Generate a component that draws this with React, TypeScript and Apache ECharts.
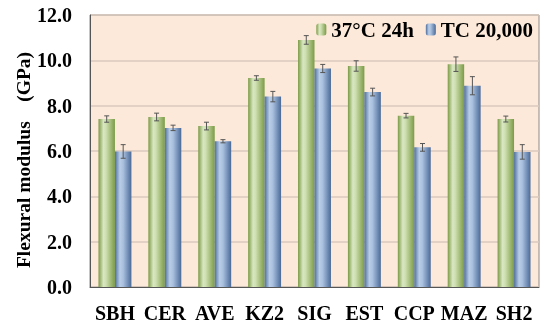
import React, { useEffect, useRef } from "react";
import * as echarts from "echarts";

const categories = ["SBH", "CER", "AVE", "KZ2", "SIG", "EST", "CCP", "MAZ", "SH2"];
const seriesNames = ["37°C 24h", "TC 20,000"];
const values37 = [7.41, 7.5, 7.1, 9.22, 10.9, 9.75, 7.56, 9.83, 7.41];
const err37 = [0.14, 0.17, 0.17, 0.1, 0.19, 0.23, 0.1, 0.32, 0.13];
const valuesTC = [5.98, 7.02, 6.43, 8.4, 9.64, 8.6, 6.16, 8.88, 5.96];
const errTC = [0.3, 0.12, 0.07, 0.23, 0.18, 0.17, 0.17, 0.4, 0.32];
const yTicks = [0, 2, 4, 6, 8, 10, 12];
const yTitle = "Flexural modulus    (GPa)";

const font = "'Liberation Serif', 'Times New Roman', serif";

const greenGrad = new echarts.graphic.LinearGradient(0, 0, 1, 0, [
  { offset: 0, color: "#7a9a46" },
  { offset: 0.3, color: "#d9e7c2" },
  { offset: 0.45, color: "#cfe0b2" },
  { offset: 1, color: "#7b9b47" },
]);
const blueGrad = new echarts.graphic.LinearGradient(0, 0, 1, 0, [
  { offset: 0, color: "#4d6e9c" },
  { offset: 0.3, color: "#b9cde6" },
  { offset: 0.5, color: "#a9c0de" },
  { offset: 1, color: "#4a6a98" },
]);

function errorSeries(vals: number[], errs: number[], sign: number) {
  return {
    type: "custom",
    silent: true,
    z: 10,
    data: vals.map((v, i) => [i, v - errs[i], v + errs[i]]),
    renderItem: (params: any, api: any) => {
      const i = api.value(0);
      const band = api.size([1, 0])[0];
      const off = sign * band * 0.165;
      const lo = api.coord([i, api.value(1)]);
      const hi = api.coord([i, api.value(2)]);
      const x = lo[0] + off;
      const cap = 2.5;
      const style = { stroke: "#555555", lineWidth: 1 };
      return {
        type: "group",
        children: [
          { type: "line", shape: { x1: x, y1: lo[1], x2: x, y2: hi[1] }, style },
          { type: "line", shape: { x1: x - cap, y1: lo[1], x2: x + cap, y2: lo[1] }, style },
          { type: "line", shape: { x1: x - cap, y1: hi[1], x2: x + cap, y2: hi[1] }, style },
        ],
      };
    },
  };
}

export default function App() {
  const ref = useRef<HTMLDivElement>(null);
  useEffect(() => {
    const chart = echarts.init(ref.current!, undefined, { renderer: "svg" });
    chart.setOption({
      animation: false,
      grid: {
        left: 90,
        right: 2,
        top: 15,
        bottom: 39,
        show: true,
        backgroundColor: "#fde9d9",
        borderColor: "#8a8a8a",
        borderWidth: 1,
      },
      graphic: [
        {
          type: "text",
          x: 23,
          y: 160,
          rotation: Math.PI / 2,
          style: {
            text: yTitle,
            fontFamily: font,
            fontWeight: "bold",
            fontSize: 19.5,
            fill: "#000",
            align: "center",
            verticalAlign: "middle",
          },
        },
      ],
      legend: {
        data: seriesNames,
        right: 3,
        top: 14,
        itemWidth: 10,
        itemHeight: 12,
        itemGap: 12,
        textStyle: { fontFamily: font, fontWeight: "bold", fontSize: 21, color: "#000" },
      },
      xAxis: {
        type: "category",
        data: categories,
        axisTick: { show: false },
        axisLine: { lineStyle: { color: "#555555" } },
        axisLabel: {
          interval: 0,
          fontFamily: font,
          fontWeight: "bold",
          fontSize: 20,
          color: "#000",
          margin: 16,
        },
      },
      yAxis: {
        type: "value",
        min: 0,
        max: 12,
        interval: 2,
        axisLine: { show: true, lineStyle: { color: "#555555" } },
        axisTick: { show: false },
        splitLine: { lineStyle: { color: "#d9c9bc", width: 1.5 } },
        axisLabel: {
          fontFamily: font,
          fontWeight: "bold",
          fontSize: 20,
          color: "#000",
          margin: 18,
          formatter: (v: number) => (yTicks.includes(v) ? v.toFixed(1) : ""),
        },
      },
      series: [
        {
          name: seriesNames[0],
          type: "bar",
          data: values37,
          barGap: "0%",
          barCategoryGap: "34%",
          itemStyle: { color: greenGrad },
        },
        {
          name: seriesNames[1],
          type: "bar",
          data: valuesTC,
          itemStyle: { color: blueGrad },
        },
        errorSeries(values37, err37, -1),
        errorSeries(valuesTC, errTC, 1),
      ],
    });
    return () => chart.dispose();
  }, []);
  return (
    <div
      ref={ref}
      style={{ position: "fixed", left: 0, top: 0, width: 541, height: 326 }}
    />
  );
}
